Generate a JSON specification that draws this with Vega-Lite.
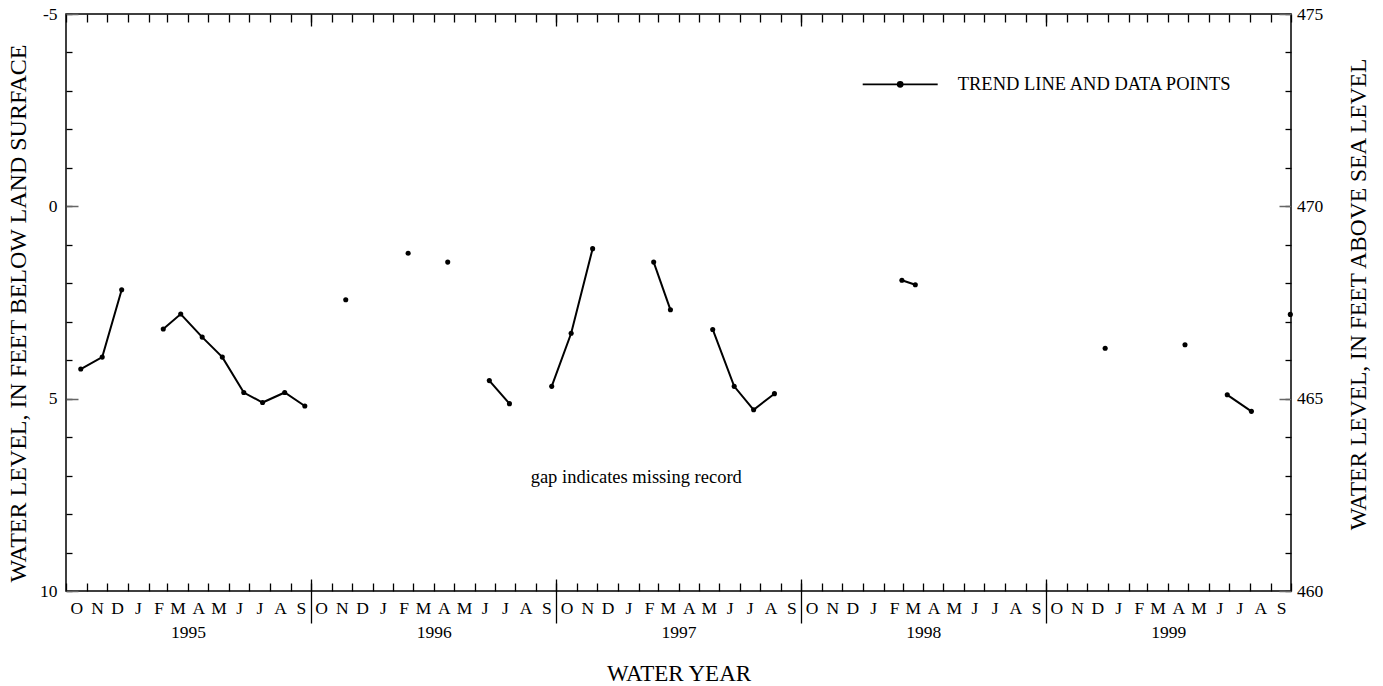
{
  "$schema": "https://vega.github.io/schema/vega-lite/v6.json",
  "width": 1225,
  "height": 577,
  "autosize": {"type": "none"},
  "padding": {"left": 66, "top": 14, "right": 92, "bottom": 95},
  "background": "white",
  "config": {
    "font": "Liberation Serif",
    "view": {"stroke": "black", "strokeWidth": 1.5},
    "axis": {
      "grid": false,
      "domain": false,
      "tickColor": "black",
      "tickWidth": 1.3,
      "labelColor": "black",
      "labelFontSize": 17.5,
      "labelFont": "Liberation Serif",
      "titleFont": "Liberation Serif",
      "titleColor": "black",
      "titleFontWeight": "normal",
      "labelOverlap": false,
      "labelFlush": false,
      "title": null
    }
  },
  "datasets": {
    "levels": [
      {"date": "1994-10-23", "level": 4.23, "seg": 1},
      {"date": "1994-11-24", "level": 3.92, "seg": 1},
      {"date": "1994-12-23", "level": 2.17, "seg": 1},
      {"date": "1995-02-23", "level": 3.19, "seg": 2},
      {"date": "1995-03-21", "level": 2.80, "seg": 2},
      {"date": "1995-04-22", "level": 3.40, "seg": 2},
      {"date": "1995-05-22", "level": 3.92, "seg": 2},
      {"date": "1995-06-23", "level": 4.84, "seg": 2},
      {"date": "1995-07-21", "level": 5.10, "seg": 2},
      {"date": "1995-08-23", "level": 4.84, "seg": 2},
      {"date": "1995-09-22", "level": 5.19, "seg": 2},
      {"date": "1995-11-22", "level": 2.43, "seg": 3},
      {"date": "1996-02-23", "level": 1.22, "seg": 4},
      {"date": "1996-04-22", "level": 1.45, "seg": 5},
      {"date": "1996-06-23", "level": 4.53, "seg": 6},
      {"date": "1996-07-23", "level": 5.13, "seg": 6},
      {"date": "1996-09-24", "level": 4.68, "seg": 7},
      {"date": "1996-10-23", "level": 3.30, "seg": 7},
      {"date": "1996-11-24", "level": 1.10, "seg": 7},
      {"date": "1997-02-23", "level": 1.45, "seg": 8},
      {"date": "1997-03-20", "level": 2.69, "seg": 8},
      {"date": "1997-05-22", "level": 3.20, "seg": 9},
      {"date": "1997-06-23", "level": 4.68, "seg": 9},
      {"date": "1997-07-22", "level": 5.29, "seg": 9},
      {"date": "1997-08-22", "level": 4.87, "seg": 9},
      {"date": "1998-02-28", "level": 1.92, "seg": 10},
      {"date": "1998-03-20", "level": 2.04, "seg": 10},
      {"date": "1998-12-28", "level": 3.69, "seg": 11},
      {"date": "1999-04-26", "level": 3.60, "seg": 12},
      {"date": "1999-06-28", "level": 4.90, "seg": 13},
      {"date": "1999-08-03", "level": 5.33, "seg": 13},
      {"date": "1999-09-30", "level": 2.81, "seg": 14}
    ],
    "notes": [
      {"date": "1997-01-28", "level": 7.2, "label": "gap indicates missing record"}
    ]
  },
  "layer": [
    {
      "data": {"name": "levels"},
      "mark": {"type": "line", "strokeWidth": 2},
      "encoding": {
        "x": {
          "field": "date", "type": "temporal",
          "scale": {"type": "utc", "domain": [{"year": 1994, "month": 10, "date": 1, "utc": true}, {"year": 1999, "month": 10, "date": 1, "utc": true}]},
          "axis": {
            "orient": "bottom",
            "tickCount": {"interval": "month", "step": 1},
            "tickSize": -8,
            "labelOffset": 10.2,
            "labelPadding": 30.3,
            "labelBaseline": "alphabetic",
            "labelAlign": "center",
            "labelExpr": "utcyear(datum.value) == 1999 && utcmonth(datum.value) == 9 ? '' : ['J','F','M','A','M','J','J','A','S','O','N','D'][utcmonth(datum.value)]"
          }
        },
        "y": {
          "field": "level", "type": "quantitative",
          "scale": {"domain": [-5, 10], "reverse": true, "nice": false, "zero": false},
          "axis": {"orient": "left", "values": [-5,-4,-3,-2,-1,0,1,2,3,4,5,6,7,8,9,10], "tickSize": -6, "labels": false}
        },
        "detail": {"field": "seg", "type": "nominal"},
        "stroke": {
          "datum": "TREND LINE AND DATA POINTS", "type": "nominal",
          "scale": {"range": ["black"]},
          "legend": {
            "title": null,
            "orient": "none",
            "legendX": 795.7,
            "legendY": 31.8,
            "padding": 0,
            "symbolType": "M-1,0L1,0M-0.067,0A0.067,0.067,0,1,0,0.067,0A0.067,0.067,0,1,0,-0.067,0Z",
            "symbolSize": 5625,
            "symbolStrokeWidth": 1.8,
            "symbolStrokeColor": "black",
            "symbolFillColor": "black",
            "labelFont": "Liberation Serif",
            "labelFontSize": 18.5,
            "labelColor": "black",
            "labelOffset": 19,
            "labelLimit": 400
          }
        }
      }
    },
    {
      "data": {"name": "levels"},
      "mark": {"type": "circle", "size": 26, "color": "black", "opacity": 1},
      "encoding": {
        "x": {
          "field": "date", "type": "temporal", "scale": {"type": "utc"},
          "axis": {"orient": "top", "tickCount": {"interval": "month", "step": 1}, "tickSize": -8, "labels": false}
        },
        "y": {
          "field": "level", "type": "quantitative",
          "axis": {"orient": "right", "values": [-5,-4,-3,-2,-1,0,1,2,3,4,5,6,7,8,9,10], "tickSize": -6, "labels": false}
        }
      }
    },
    {
      "data": {"name": "notes"},
      "mark": {"type": "text", "fontSize": 18.5, "font": "Liberation Serif", "baseline": "alphabetic", "align": "center", "color": "black"},
      "encoding": {
        "x": {
          "field": "date", "type": "temporal", "scale": {"type": "utc"},
          "axis": {
            "orient": "bottom",
            "values": [
              {"year": 1995, "month": 4, "date": 1, "utc": true},
              {"year": 1996, "month": 4, "date": 1, "utc": true},
              {"year": 1997, "month": 4, "date": 1, "utc": true},
              {"year": 1998, "month": 4, "date": 1, "utc": true},
              {"year": 1999, "month": 4, "date": 1, "utc": true}
            ],
            "ticks": false,
            "tickSize": 0,
            "labelPadding": 46.3,
            "labelBaseline": "alphabetic",
            "labelAlign": "center",
            "labelExpr": "utcFormat(datum.value, '%Y')"
          }
        },
        "y": {
          "field": "level", "type": "quantitative",
          "axis": {
            "orient": "left", "values": [-5, 0, 5, 10], "tickSize": -12, "tickColor": "#666666", "tickWidth": 1.5,
            "labelPadding": 21,
            "labelExpr": "'' + datum.value",
            "title": "WATER LEVEL, IN FEET BELOW LAND SURFACE",
            "titleFontSize": 24, "titleAngle": 270, "titleX": -41, "titleY": 299,
            "titleAlign": "center", "titleBaseline": "alphabetic"
          }
        },
        "text": {"field": "label", "type": "nominal"}
      }
    },
    {
      "data": {"name": "levels"},
      "mark": {"type": "point", "opacity": 0},
      "encoding": {
        "x": {
          "field": "date", "type": "temporal", "scale": {"type": "utc"},
          "axis": {
            "orient": "bottom",
            "values": [
              {"year": 1995, "month": 10, "date": 1, "utc": true},
              {"year": 1996, "month": 10, "date": 1, "utc": true},
              {"year": 1997, "month": 10, "date": 1, "utc": true},
              {"year": 1998, "month": 10, "date": 1, "utc": true}
            ],
            "offset": -12, "tickSize": 44, "labels": false,
            "title": "WATER YEAR", "titleFontSize": 23, "titleX": 612.5, "titleY": 101,
            "titleAlign": "center", "titleBaseline": "alphabetic"
          }
        },
        "y": {
          "field": "level", "type": "quantitative",
          "axis": {
            "orient": "right", "values": [-5, 0, 5, 10], "tickSize": -12, "tickColor": "#666666", "tickWidth": 1.5,
            "labelPadding": 17.5, "labelAlign": "left",
            "labelExpr": "'' + (470 - datum.value)",
            "title": "WATER LEVEL, IN FEET ABOVE SEA LEVEL",
            "titleFontSize": 23.5, "titleAngle": 270, "titleX": 74, "titleY": 280,
            "titleAlign": "center", "titleBaseline": "alphabetic"
          }
        }
      }
    },
    {
      "data": {"name": "levels"},
      "mark": {"type": "point", "opacity": 0},
      "encoding": {
        "x": {
          "field": "date", "type": "temporal", "scale": {"type": "utc"},
          "axis": {
            "orient": "top",
            "values": [
              {"year": 1995, "month": 10, "date": 1, "utc": true},
              {"year": 1996, "month": 10, "date": 1, "utc": true},
              {"year": 1997, "month": 10, "date": 1, "utc": true},
              {"year": 1998, "month": 10, "date": 1, "utc": true}
            ],
            "tickSize": -12, "labels": false
          }
        },
        "y": {"field": "level", "type": "quantitative", "axis": null}
      }
    }
  ],
  "resolve": {"axis": {"x": "independent", "y": "independent"}}
}
